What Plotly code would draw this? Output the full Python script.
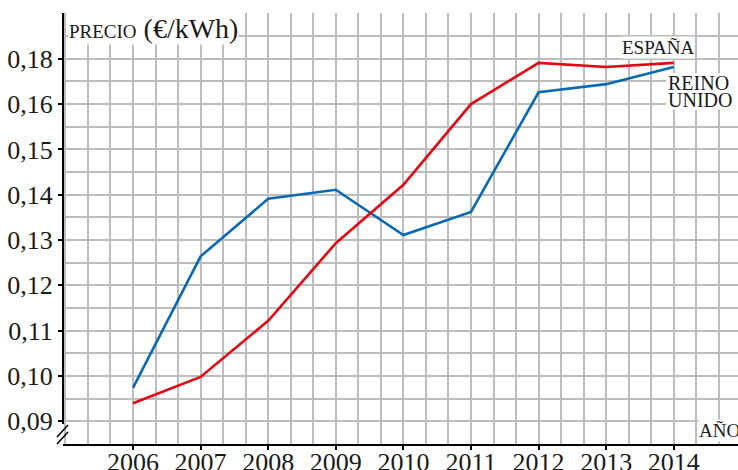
import plotly.graph_objects as go

# ---- data ----
years = [2006, 2007, 2008, 2009, 2010, 2011, 2012, 2013, 2014]
year_labels = [str(y) for y in years]
espana = [0.0940, 0.0998, 0.1122, 0.1293, 0.1422, 0.1600, 0.1691, 0.1682, 0.1691]
reino_unido = [0.0974, 0.1264, 0.1391, 0.1411, 0.1311, 0.1362, 0.1626, 0.1644, 0.1682]
y_tick_values = [0.09, 0.10, 0.11, 0.12, 0.13, 0.14, 0.15, 0.16, 0.17]
y_tick_labels = ["0,09", "0,10", "0,11", "0,12", "0,13", "0,14", "0,15", "0,16", "0,18"]

RED = "#e30613"
BLUE = "#0a69b3"
GRID = "#bdbdbd"
FONT = "Liberation Serif"
TXT = "#1a1a1a"

W, H = 738, 470
L, R, T, B = 63, 0, 13, 26
PW, PH = W - L - R, H - T - B


def px(xp):
    return (xp - L) / PW


def py(yp):
    return (H - B - yp) / PH


fig = go.Figure()
fig.add_trace(go.Scatter(x=years, y=reino_unido, mode="lines",
                         line=dict(color=BLUE, width=2.6), name="REINO UNIDO"))
fig.add_trace(go.Scatter(x=years, y=espana, mode="lines",
                         line=dict(color=RED, width=2.6), name="ESPAÑA"))

fig.update_layout(
    width=W, height=H,
    margin=dict(l=L, r=R, t=T, b=B, pad=0),
    paper_bgcolor="white", plot_bgcolor="white",
    showlegend=False,
    font=dict(family=FONT, color=TXT),
    xaxis=dict(
        range=[2004.9645, 2014.95], tickmode="array", tickvals=years, ticktext=year_labels,
        showgrid=True, gridcolor=GRID, gridwidth=1.5,
        minor=dict(tick0=2006, dtick=1/3, showgrid=True, gridcolor=GRID, gridwidth=1.5, ticks=""),
        showline=True, linecolor="black", linewidth=2,
        ticks="outside", ticklen=4, tickwidth=2, tickcolor="black",
        tickfont=dict(family=FONT, size=26, color=TXT),
        ticklabelstandoff=-10,
        zeroline=False, automargin=False, fixedrange=True,
    ),
    yaxis=dict(
        range=[0.085, 0.1801], tickmode="array", tickvals=y_tick_values, ticktext=y_tick_labels,
        showgrid=True, gridcolor=GRID, gridwidth=1.5,
        minor=dict(tick0=0.085, dtick=0.005, showgrid=True, gridcolor=GRID, gridwidth=1.5, ticks=""),
        showline=False,
        ticks="outside", ticklen=4, tickwidth=2, tickcolor="black",
        tickfont=dict(family=FONT, size=26, color=TXT),
        zeroline=False, automargin=False, fixedrange=True,
    ),
)

# y axis line with break mark
fig.add_shape(type="line", xref="paper", yref="paper",
              x0=0, x1=0, y0=py(424), y1=py(13), line=dict(color="black", width=2))
fig.add_shape(type="line", xref="paper", yref="paper",
              x0=px(57), x1=px(68), y0=py(437), y1=py(425), line=dict(color="black", width=1.5))
fig.add_shape(type="line", xref="paper", yref="paper",
              x0=px(57), x1=px(68), y0=py(444), y1=py(432), line=dict(color="black", width=1.5))

# white backing behind the right-hand labels
fig.add_shape(type="rect", xref="paper", yref="paper", x0=px(666), x1=px(740),
              y0=py(110), y1=py(73), fillcolor="white", line=dict(width=0), layer="above")

# labels
fig.add_annotation(xref="paper", yref="paper", x=px(68), y=py(12), xanchor="left", yanchor="top",
                   text='<span style="font-size:19px">PRECIO</span> (€/kWh)',
                   font=dict(family=FONT, size=28, color=TXT),
                   showarrow=False, bgcolor="white", borderpad=0)
fig.add_annotation(xref="paper", yref="paper", x=px(621), y=py(36), xanchor="left", yanchor="top",
                   text="ESPAÑA", font=dict(family=FONT, size=19, color=TXT),
                   showarrow=False, bgcolor="white", borderpad=0)
fig.add_annotation(xref="paper", yref="paper", x=px(667), y=py(71), xanchor="left", yanchor="top",
                   text="REINO", font=dict(family=FONT, size=20, color=TXT),
                   showarrow=False, borderpad=0)
fig.add_annotation(xref="paper", yref="paper", x=px(667), y=py(88), xanchor="left", yanchor="top",
                   text="UNIDO", font=dict(family=FONT, size=20, color=TXT),
                   showarrow=False, borderpad=0)
fig.add_annotation(xref="paper", yref="paper", x=px(698), y=py(442), xanchor="left", yanchor="bottom",
                   text="AÑO", font=dict(family=FONT, size=19, color=TXT),
                   showarrow=False, bgcolor="white", borderpad=0)

fig.write_html("out.html", config={"displayModeBar": False},
               post_script="document.body.style.margin='0px';document.body.style.overflow='hidden';")
